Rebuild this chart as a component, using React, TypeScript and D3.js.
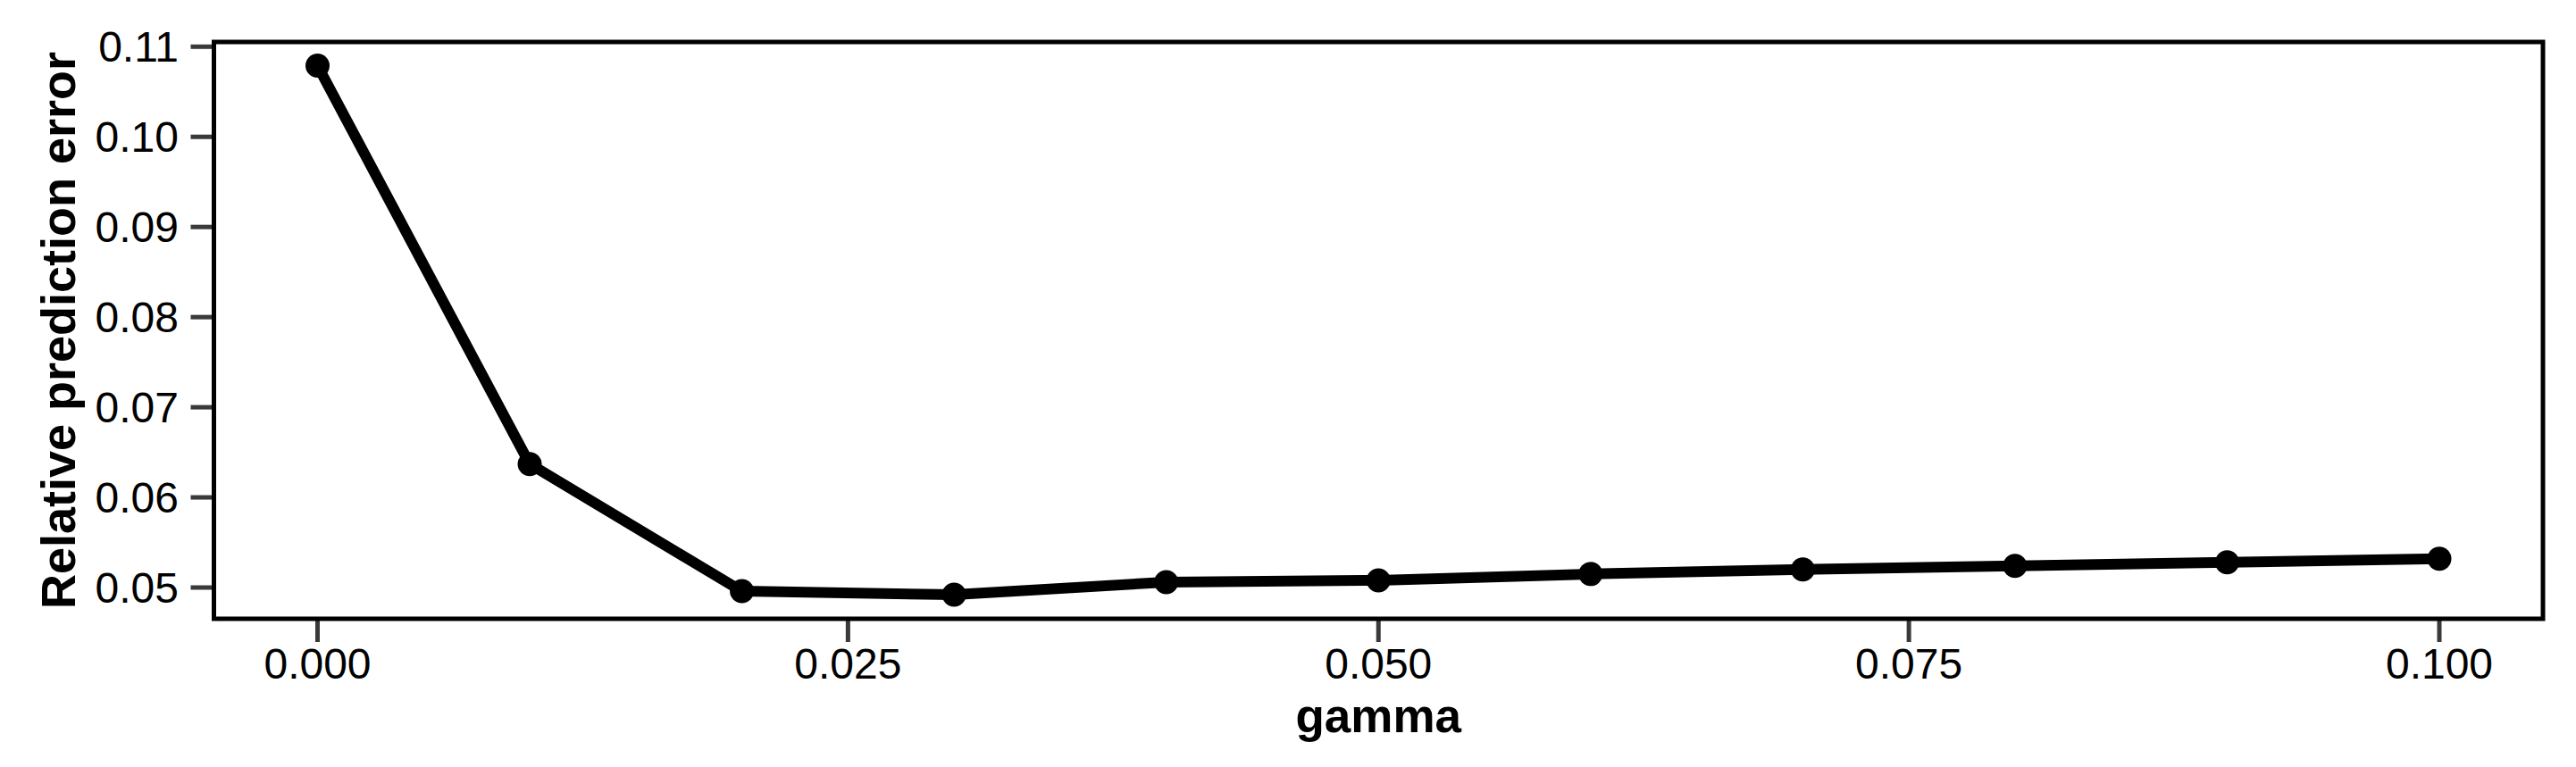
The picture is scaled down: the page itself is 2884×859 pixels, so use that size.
import React, { useRef, useEffect } from "react";
import * as d3 from "d3";

export const gammaValues = [0, 0.01, 0.02, 0.03, 0.04, 0.05, 0.06, 0.07, 0.08, 0.09, 0.1];
export const errorValues = [
  0.1079, 0.0637, 0.0496, 0.0492, 0.0506, 0.0508, 0.0515, 0.052, 0.0524, 0.0528, 0.0532,
];
export const xTicks = [0, 0.025, 0.05, 0.075, 0.1];
export const yTicks = [0.05, 0.06, 0.07, 0.08, 0.09, 0.1, 0.11];

const LineChart = () => {
  const ref = useRef<SVGSVGElement>(null);

  useEffect(() => {
    const width = 2884;
    const height = 859;
    const frame = { left: 239.5, right: 2847, top: 47, bottom: 693 };
    const font = "'Liberation Sans', Arial, Helvetica, sans-serif";

    const x = d3.scaleLinear().domain([0, 0.1]).range([355.5, 2731]);
    const y = d3.scaleLinear().domain([0.05, 0.11]).range([658, 52.3]);

    const svg = d3.select(ref.current).attr("width", width).attr("height", height);
    svg.selectAll("*").remove();

    // x axis ticks + labels
    const xAxis = svg.append("g").attr("class", "x-axis");
    xAxis
      .selectAll("line")
      .data(xTicks)
      .enter()
      .append("line")
      .attr("x1", (d) => x(d))
      .attr("x2", (d) => x(d))
      .attr("y1", frame.bottom + 2)
      .attr("y2", frame.bottom + 26)
      .attr("stroke", "#3a3a3a")
      .attr("stroke-width", 5);
    xAxis
      .selectAll("text")
      .data(xTicks)
      .enter()
      .append("text")
      .attr("x", (d) => x(d))
      .attr("y", 760)
      .attr("text-anchor", "middle")
      .style("font-family", font)
      .style("font-size", "48px")
      .text((d) => d3.format(".3f")(d));

    // y axis ticks + labels
    const yAxis = svg.append("g").attr("class", "y-axis");
    yAxis
      .selectAll("line")
      .data(yTicks)
      .enter()
      .append("line")
      .attr("x1", frame.left - 26)
      .attr("x2", frame.left - 2)
      .attr("y1", (d) => y(d))
      .attr("y2", (d) => y(d))
      .attr("stroke", "#3a3a3a")
      .attr("stroke-width", 5);
    yAxis
      .selectAll("text")
      .data(yTicks)
      .enter()
      .append("text")
      .attr("x", 200)
      .attr("y", (d) => y(d) + 17)
      .attr("text-anchor", "end")
      .style("font-family", font)
      .style("font-size", "48px")
      .text((d) => d3.format(".2f")(d));

    // data line
    const pts = gammaValues.map((g, i) => [g, errorValues[i]] as [number, number]);
    const line = d3
      .line<[number, number]>()
      .x((d) => x(d[0]))
      .y((d) => y(d[1]));

    svg
      .append("path")
      .datum(pts)
      .attr("d", line)
      .attr("fill", "none")
      .attr("stroke", "#000")
      .attr("stroke-width", 12)
      .attr("stroke-linejoin", "round");

    svg
      .append("g")
      .selectAll("circle")
      .data(pts)
      .enter()
      .append("circle")
      .attr("cx", (d) => x(d[0]))
      .attr("cy", (d) => y(d[1]))
      .attr("r", 13.5)
      .attr("fill", "#000");

    // frame
    svg
      .append("rect")
      .attr("x", frame.left)
      .attr("y", frame.top)
      .attr("width", frame.right - frame.left)
      .attr("height", frame.bottom - frame.top)
      .attr("fill", "none")
      .attr("stroke", "#000")
      .attr("stroke-width", 5);

    // axis titles
    svg
      .append("text")
      .attr("x", (frame.left + frame.right) / 2)
      .attr("y", 820)
      .attr("text-anchor", "middle")
      .style("font-family", font)
      .style("font-size", "53px")
      .style("font-weight", "bold")
      .text("gamma");

    svg
      .append("text")
      .attr("transform", `translate(84, ${(frame.top + frame.bottom) / 2}) rotate(-90)`)
      .attr("text-anchor", "middle")
      .style("font-family", font)
      .style("font-size", "54px")
      .style("font-weight", "bold")
      .text("Relative prediction error");
  }, []);

  return (
    <div style={{ position: "absolute", left: 0, top: 0 }}>
      <svg ref={ref} style={{ display: "block", background: "#fff" }}></svg>
    </div>
  );
};

export default function App() {
  return <LineChart />;
}
